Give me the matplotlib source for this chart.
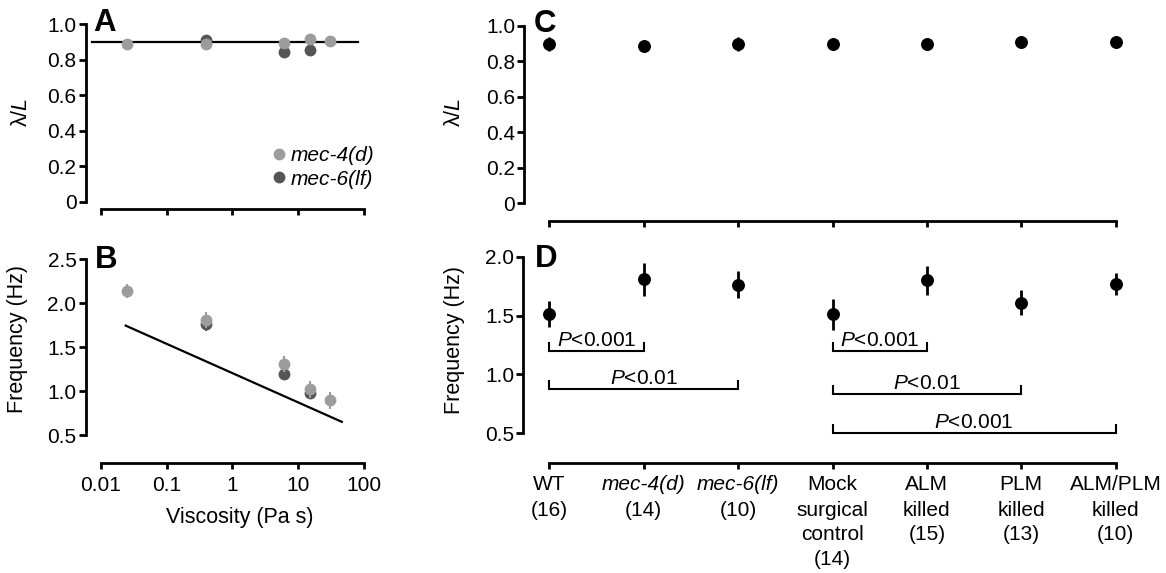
import matplotlib
matplotlib.use('Agg')
import matplotlib.pyplot as plt
from matplotlib.ticker import FixedLocator, NullLocator

plt.rcParams['font.family'] = ['Liberation Sans', 'DejaVu Sans']
plt.rcParams['mathtext.fontset'] = 'custom'
plt.rcParams['mathtext.rm'] = 'Liberation Sans'
plt.rcParams['mathtext.it'] = 'Liberation Sans:italic'
plt.rcParams['mathtext.bf'] = 'Liberation Sans:bold'

# ---------------- data ----------------
# Panels A/B : viscosity series
visc_m4 = [0.025, 0.4, 6, 15, 30]
lam_m4 = [0.889, 0.889, 0.893, 0.915, 0.906]
lam_m4_err = [0.015, 0.015, 0.015, 0.015, 0.012]
freq_m4 = [2.14, 1.81, 1.31, 1.02, 0.895]
freq_m4_err = [0.075, 0.09, 0.09, 0.10, 0.095]

visc_m6 = [0.4, 6, 15]
lam_m6 = [0.911, 0.842, 0.855]
lam_m6_err = [0.010, 0.015, 0.015]
freq_m6 = [1.76, 1.195, 0.975]
freq_m6_err = [0.08, 0.03, 0.07]

lam_ref_x = [0.0073, 82]
lam_ref_y = [0.9, 0.9]
freq_ref_x = [0.024, 46]
freq_ref_y = [1.745, 0.65]

series_labels = ['mec-4(d)', 'mec-6(lf)']
visc_ticks = [0.01, 0.1, 1, 10, 100]
visc_ticklabels = ['0.01', '0.1', '1', '10', '100']
lam_ticks = [0, 0.2, 0.4, 0.6, 0.8, 1.0]
lam_ticklabels = ['0', '0.2', '0.4', '0.6', '0.8', '1.0']
freqB_ticks = [0.5, 1.0, 1.5, 2.0, 2.5]
freqB_ticklabels = ['0.5', '1.0', '1.5', '2.0', '2.5']
freqD_ticks = [0.5, 1.0, 1.5, 2.0]
freqD_ticklabels = ['0.5', '1.0', '1.5', '2.0']

# Panels C/D : groups
group_lines = [['WT', '(16)'],
               ['mec-4(d)', '(14)'],
               ['mec-6(lf)', '(10)'],
               ['Mock', 'surgical', 'control', '(14)'],
               ['ALM', 'killed', '(15)'],
               ['PLM', 'killed', '(13)'],
               ['ALM/PLM', 'killed', '(10)']]
group_first_italic = [False, True, True, False, False, False, False]
lam_groups = [0.897, 0.886, 0.897, 0.897, 0.897, 0.907, 0.907]
lam_groups_err = [0.040, 0.035, 0.040, 0.035, 0.035, 0.035, 0.035]
freq_groups = [1.51, 1.81, 1.76, 1.51, 1.80, 1.61, 1.77]
freq_groups_err = [0.11, 0.14, 0.115, 0.13, 0.125, 0.105, 0.093]

comp_left = [0, 0, 3, 3, 3]
comp_right = [1, 2, 4, 5, 6]
comp_level = [1.195, 0.876, 1.195, 0.832, 0.50]
comp_text = [r'$\mathit{P}$<0.001', r'$\mathit{P}$<0.01', r'$\mathit{P}$<0.001',
             r'$\mathit{P}$<0.01', r'$\mathit{P}$<0.001']

# ---------------- style ----------------
LIGHT = '#9c9c9c'
DARK = '#555555'
FS = 15
LFS = 15.5
W, H = 1166, 573

fig = plt.figure(figsize=(W / 100, H / 100), dpi=100)


def rect(l, r, t, b):
    return [l / W, 1 - b / H, (r - l) / W, (b - t) / H]


def style(ax, outward_px, ybounds):
    for s in ['top', 'right']:
        ax.spines[s].set_visible(False)
    ax.spines['left'].set_position(('outward', outward_px * 0.72))
    ax.spines['left'].set_bounds(*ybounds)
    for s in ['left', 'bottom']:
        ax.spines[s].set_linewidth(2)
    ax.tick_params(axis='y', length=5.0, width=2, pad=1.5, labelsize=FS, direction='out')
    ax.tick_params(axis='x', length=4.3, width=2, pad=5, labelsize=FS, direction='out')


axA = fig.add_axes(rect(100.7, 364, 24.3, 209.3))
axB = fig.add_axes(rect(100.7, 364, 259.3, 463.3))
axC = fig.add_axes(rect(549.3, 1115.7, 25.7, 220.7))
axD = fig.add_axes(rect(549.3, 1115.7, 256.7, 462.7))

# ---- A ----
axA.plot(lam_ref_x, lam_ref_y, color='black', lw=1.6, zorder=1, clip_on=False)
e6 = axA.errorbar(visc_m6, lam_m6, yerr=lam_m6_err, fmt='o', color=DARK, ms=7.5,
                  elinewidth=1.5, capsize=0, zorder=2, clip_on=False)
e4 = axA.errorbar(visc_m4, lam_m4, yerr=lam_m4_err, fmt='o', color=LIGHT, ms=7.5,
                  elinewidth=1.5, capsize=0, zorder=3, clip_on=False)
axA.set_xscale('log')
axA.set_xlim(0.01, 100)
axA.set_ylim(-0.043, 1.0)
axA.xaxis.set_major_locator(FixedLocator(visc_ticks))
axA.xaxis.set_minor_locator(NullLocator())
axA.set_xticklabels([])
axA.set_yticks(lam_ticks)
axA.set_yticklabels(lam_ticklabels)
style(axA, 15.2, (0, 1.0))
axA.set_ylabel(r'λ/$\mathit{L}$', fontsize=LFS)
axA.legend(handles=[e4[0], e6[0]], labels=series_labels, loc='center left',
           bbox_to_anchor=(0.6535, 0.226), frameon=False, handlelength=0.6,
           handletextpad=0.25, borderpad=0, borderaxespad=0, labelspacing=0.2,
           prop={'style': 'italic', 'size': FS}, numpoints=1)

# ---- B ----
axB.plot(freq_ref_x, freq_ref_y, color='black', lw=1.6, zorder=1)
axB.errorbar(visc_m6, freq_m6, yerr=freq_m6_err, fmt='o', color=DARK, ms=7.5,
             elinewidth=1.5, capsize=0, zorder=2)
axB.errorbar(visc_m4, freq_m4, yerr=freq_m4_err, fmt='o', color=LIGHT, ms=7.5,
             elinewidth=1.5, capsize=0, zorder=3)
axB.set_xscale('log')
axB.set_xlim(0.01, 100)
axB.set_ylim(0.178, 2.5)
axB.xaxis.set_major_locator(FixedLocator(visc_ticks))
axB.xaxis.set_minor_locator(NullLocator())
axB.set_xticklabels(visc_ticklabels)
axB.set_yticks(freqB_ticks)
axB.set_yticklabels(freqB_ticklabels)
style(axB, 15.2, (0.5, 2.5))
axB.set_xlabel('Viscosity (Pa s)', fontsize=LFS)
axB.set_ylabel('Frequency (Hz)', fontsize=LFS)

# ---- C ----
xs = list(range(len(group_lines)))
axC.errorbar(xs, lam_groups, yerr=lam_groups_err, fmt='o', color='black', ms=8.3,
             elinewidth=2, capsize=0, clip_on=False)
axC.set_xlim(0, 6)
axC.set_ylim(-0.098, 1.0)
axC.set_xticks(xs)
axC.set_xticklabels([])
axC.set_yticks(lam_ticks)
axC.set_yticklabels(lam_ticklabels)
style(axC, 25.0, (0, 1.0))
axC.set_ylabel(r'λ/$\mathit{L}$', fontsize=LFS)

# ---- D ----
axD.errorbar(xs, freq_groups, yerr=freq_groups_err, fmt='o', color='black', ms=8.3,
             elinewidth=2, capsize=0, clip_on=False)
axD.set_xlim(0, 6)
axD.set_ylim(0.25, 2.0)
axD.set_xticks(xs)
axD.set_xticklabels([])
axD.set_yticks(freqD_ticks)
axD.set_yticklabels(freqD_ticklabels)
style(axD, 26.0, (0.5, 2.0))
axD.set_ylabel('Frequency (Hz)', fontsize=LFS)

bh = 9 / 117.7
for i, j, lev, txt in zip(comp_left, comp_right, comp_level, comp_text):
    axD.plot([i, i, j, j], [lev + bh, lev, lev, lev + bh], color='black', lw=1.5,
             clip_on=False, solid_capstyle='butt', solid_joinstyle='miter')
    axD.annotate(txt, xy=((i + j) / 2, lev), xytext=(0, 3.8), textcoords='offset points',
                 ha='center', va='baseline', fontsize=FS)

line_offsets_px = [22.3, 47.3, 72.3, 96.8]
for x, lines, ital in zip(xs, group_lines, group_first_italic):
    for k, ln in enumerate(lines):
        axD.annotate(ln, xy=(x, 0), xycoords=('data', 'axes fraction'),
                     xytext=(0, -line_offsets_px[k] * 0.72), textcoords='offset points',
                     ha='center', va='center', fontsize=FS,
                     style='italic' if (k == 0 and ital) else 'normal',
                     annotation_clip=False)

# y label positions (figure pixels -> figure fraction)
for ax, (cx, cy) in [(axA, (21.7, 112)), (axB, (18, 339)), (axC, (455, 112)), (axD, (455, 340))]:
    ax.yaxis.set_label_coords(cx / W, 1 - cy / H, transform=fig.transFigure)
    ax.yaxis.label.set_va('center')
axB.xaxis.set_label_coords(240 / W, 1 - 517 / H, transform=fig.transFigure)
axB.xaxis.label.set_va('center')

# panel letters
for letter, (lx, ty) in zip(['A', 'B', 'C', 'D'],
                            [(93.5, 8.3), (94.5, 245.5), (533.5, 8.5), (534.5, 243.5)]):
    fig.text(lx / W, 1 - ty / H, letter, fontsize=22.5, fontweight='bold', ha='left', va='top')

fig.savefig('out.png', dpi=100)
